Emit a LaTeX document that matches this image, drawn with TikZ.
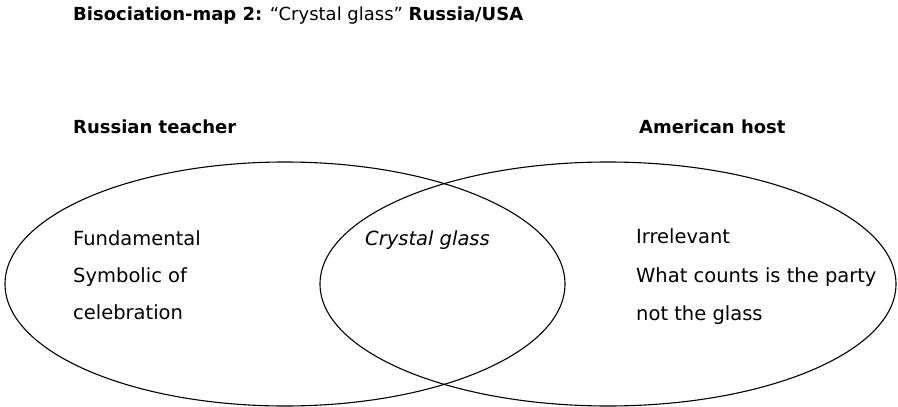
\documentclass[tikz,border=0pt]{standalone}
\usepackage{fontspec}
\setmainfont{DejaVu Sans}
\usetikzlibrary{shapes.geometric}

\begin{document}
\begin{tikzpicture}[
  x=1pt, y=-1pt,
  txt/.style={anchor=base west, inner sep=0pt, font=\fontsize{19.5}{22}\selectfont},
  hd/.style={txt, font=\fontsize{18}{22}\selectfont\bfseries},
  set/.style={ellipse, draw, line width=1.1pt, inner sep=0pt}
]
\useasboundingbox (0,0) rectangle (898,407);

% title
\node[hd, font=\fontsize{18}{22}\selectfont] (title) at (73,20) {{\bfseries Bisociation-map 2:} “Crystal glass” {\bfseries Russia/USA}};

% the two sets
\node[set, minimum width=560, minimum height=244] (rus) at (285,284) {};
\node[set, minimum width=576, minimum height=244] (usa) at (608,284) {};

% set headings
\node[hd] (rushd) at (73,133) {Russian teacher};
\node[hd] (usahd) at (639,133) {American host};

% Russian side
\node[txt] (r1) at (73,245) {Fundamental};
\node[txt] (r2) at (73,282) {Symbolic of};
\node[txt] (r3) at (73,319) {celebration};

% overlap
\node[txt, font=\fontsize{19.5}{22}\selectfont\itshape] (both) at (365,245) {Crystal glass};

% American side
\node[txt] (u1) at (636,243) {Irrelevant};
\node[txt] (u2) at (636,282) {What counts is the party};
\node[txt] (u3) at (636,320) {not the glass};
\end{tikzpicture}
\end{document}
